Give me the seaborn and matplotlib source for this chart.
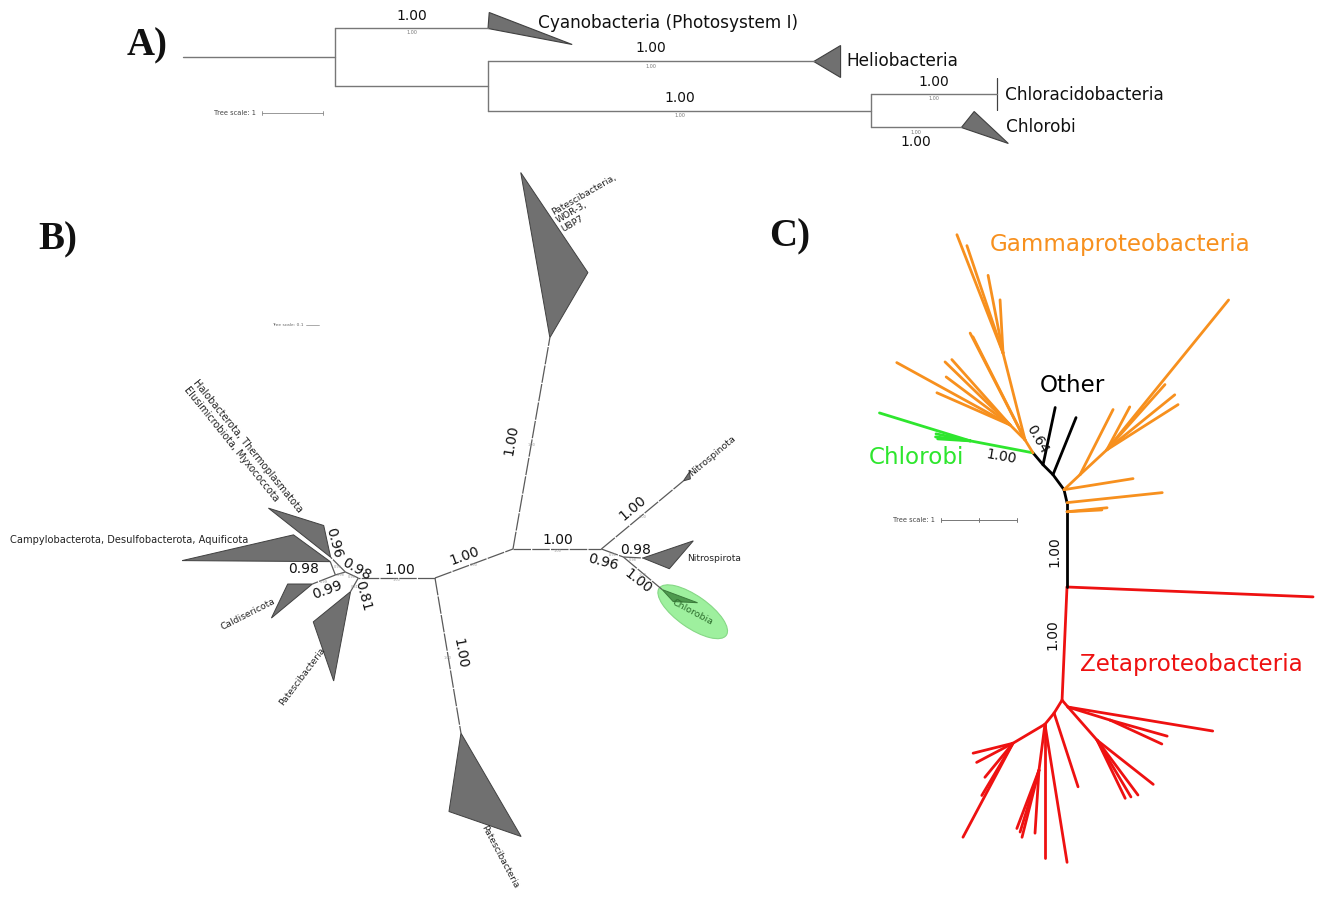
import numpy as np
import pandas as pd
import matplotlib
matplotlib.use("Agg")
import matplotlib.pyplot as plt
from matplotlib.patches import Ellipse, Polygon
import seaborn as sns

sns.set_theme(style="white")
plt.rcParams["font.family"] = ["DejaVu Sans"]

# ---------------- Panel A: rooted tree of reaction-centre lineages ----------------
A_parent = ["root", "n1", "n1", "n2", "n2", "n3", "n3"]
A_child = ["n1", "Cyanobacteria (Photosystem I)", "n2", "Heliobacteria", "n3",
           "Chloracidobacteria", "Chlorobi"]
A_length = [2.49, 2.51, 2.51, 5.34, 6.28, 2.07, 1.48]
A_support = [None, "1.00", None, "1.00", "1.00", "1.00", "1.00"]
A_leaves = ["Cyanobacteria (Photosystem I)", "Heliobacteria", "Chloracidobacteria", "Chlorobi"]
A_clade_min = [0.02, 0.44, 0.0, 0.21]   # shortest tip inside each collapsed clade
A_clade_max = [1.38, 0.44, 0.0, 0.77]   # longest tip inside each collapsed clade

# ---------------- Panel B: unrooted tree, collapsed clades ----------------
B_parent = ["C1", "U", "U", "R", "R", "R2", "R2", "C1", "C1", "L1", "M", "M", "N", "N", "L1"]
B_child = ["U", "PAT1", "R", "NSP", "R2", "NSR", "CHL", "PAT2", "L1", "M", "HAL", "N", "CAM", "CAL", "PAT3"]
B_length = [0.64, 1.65, 0.68, 0.82, 0.18, 0.15, 0.39, 1.21, 0.59, 0.11, 0.16, 0.08, 0.11, 0.19, 0.12]
B_angle = [20.4, 80.1, 0.0, 39.7, -20.0, -3.0, -40.0, -80.5, 180.0, 155.0, 135.0, -163.0, 111.0, -158.6, -119.7]
B_support = ["1.00", "1.00", "1.00", "1.00", "0.96", "0.98", "1.00", "1.00", "1.00", "0.98", "0.96",
             "0.98", None, "0.99", "0.81"]
B_clade_node = ["PAT1", "NSP", "NSR", "CHL", "PAT2", "HAL", "CAM", "CAL", "PAT3"]
B_clade_name = ["Patescibacteria,\nWOR-3,\nUBP7", "Nitrospinota", "Nitrospirota", "Chlorobia",
                "Patescibacteria", "Halobacterota, Thermoplasmatota\nElusimicrobiota, Myxococcota",
                "Campylobacterota, Desulfobacterota, Aquificota", "Caldisericota", "Patescibacteria"]
B_tri_len1 = [1.29, 0.083, 0.41, 0.29, 0.61, 0.61, 1.14, 0.19, 0.37]
B_tri_ang1 = [100.0, 56.0, 18.8, -20.4, -98.7, 141.7, 179.6, 180.0, -140.9]
B_tri_len2 = [0.58, 0.056, 0.22, 0.125, 0.92, 0.25, 0.35, 0.41, 0.70]
B_tri_ang2 = [59.7, 16.0, -22.0, -47.5, -59.8, 102.3, 143.9, -140.3, -100.7]

# ---------------- Panel C: unrooted tree coloured by lineage ----------------
C_parent = ["X", "X", "X", "B0", "B1", "B2", "B3", "B4", "B4", "B3",
            "B5", "G1", "G1", "G1", "G1",
            "B5", "O1", "O2", "O2", "O2", "O2", "O1", "O1", "O1", "O3", "O3", "O3", "O3", "O3",
            "B0", "B0", "B1", "B2", "B2", "Q1", "Q1", "Q2", "Q2", "Q2", "Q2", "Q2",
            "Z0", "Zr", "Zr", "Zr2", "Zr2", "Zr", "Zr3", "Zr3", "Zr3", "Zr3",
            "Z0", "Zl", "Zl", "Zl2", "Zl2", "Zl2", "Zl3", "Zl3", "Zl3", "Zl3",
            "Zl2", "Zl4", "Zl4", "Zl4", "Zl4", "Zl4"]
C_child = ["Z0", "z0", "B0", "B1", "B2", "B3", "B4", "B5", "k1", "k3",
           "G1", "g1", "g2", "g3", "g4",
           "O1", "O2", "o1", "o2", "o3", "o4", "o5", "o6", "O3", "o7", "o8", "o9", "o10", "o11",
           "o12", "o13", "o14", "o15", "Q1", "o16", "Q2", "o17", "o18", "o19", "o20", "o21",
           "Zr", "z1", "Zr2", "z2", "z3", "Zr3", "z4", "z5", "z6", "z7",
           "Zl", "z8", "Zl2", "z9", "z10", "Zl3", "z11", "z12", "z13", "z14",
           "Zl4", "z15", "z16", "z17", "z18", "z19"]
C_length = [1.49, 3.24, 0.99, 0.12, 0.175, 0.245, 0.185, 0.205, 0.77, 0.81,
            0.84, 1.25, 0.46, 0.46, 0.43,
            0.20, 1.18, 1.67, 1.49, 1.04, 0.70, 1.58, 1.52, 0.28, 1.70, 1.19, 1.15, 1.05, 1.05,
            0.53, 0.46, 1.26, 0.92, 0.29, 0.96, 0.48, 0.64, 2.54, 1.15, 1.11, 1.15,
            0.12, 1.93, 0.58, 0.78, 0.75, 0.58, 0.94, 0.90, 0.85, 0.87,
            0.20, 1.02, 0.19, 1.84, 1.76, 0.61, 0.83, 0.91, 0.82, 0.85,
            0.49, 1.40, 0.54, 0.54, 0.58, 0.80]
C_angle = [-92.5, -2.3, 90.0, 90.0, 103.0, 126.3, 135.0, 130.2, 78.0, 68.0,
           169.2, 162.9, 173.5, 168.4, 176.5,
           121.6, 104.2, 111.3, 108.6, 100.9, 93.2, 117.2, 116.8, 135.0, 151.2, 135.9, 131.7, 143.1, 156.3,
           5.7, 3.0, 6.0, 9.1, 43.2, 63.1, 42.8, 61.9, 50.9, 39.0, 32.4, 48.3,
           -49.4, -9.4, -17.2, -15.7, -24.8, -48.7, -38.2, -53.3, -64.2, -59.2,
           -121.6, -72.0, -129.3, -80.9, -90.0, -97.4, -93.6, -104.2, -110.8, -107.0,
           -149.3, -118.0, -166.0, -152.2, -129.5, -120.8]
C_group = (["Zeta", "Zeta"] + ["Other"] * 8 + ["Chlorobi"] * 5 + ["Gamma"] * 26 + ["Zeta"] * 26)
C_support = {"B0": "1.00", "Z0": "1.00", "G1": "1.00", "B5": "0.64"}
C_group_label = ["Gammaproteobacteria", "Other", "Chlorobi", "Zetaproteobacteria"]
C_group_key = ["Gamma", "Other", "Chlorobi", "Zeta"]

# ---------------- styling ----------------
C_palette = {"Gamma": "#f7901e", "Other": "#000000", "Chlorobi": "#2ee62e", "Zeta": "#ee1111"}
TRI_FACE = "#707070"
TRI_EDGE = "#404040"
LINE_A = "#777777"
LINE_B = "#5a5a5a"


def layout_polar(parents, children, lengths, angles, origin, scale):
    pos = {parents[0]: origin}
    for p, c, L, a in zip(parents, children, lengths, angles):
        x0, y0 = pos[p]
        r = np.deg2rad(a)
        pos[c] = (x0 + L * scale * np.cos(r), y0 - L * scale * np.sin(r))
    return pos


def polar_offset(pt, L, a, scale):
    r = np.deg2rad(a)
    return (pt[0] + L * scale * np.cos(r), pt[1] - L * scale * np.sin(r))


fig = plt.figure(figsize=(13.21, 8.97), dpi=100)
ax = fig.add_axes([0, 0, 1, 1])

# ===== Panel A =====
sA, xA0, yA0, dyA = 61.0, 183.0, 28.5, 33.0
xA = {"root": 0.0}
for p, c, L in zip(A_parent, A_child, A_length):
    xA[c] = xA[p] + L
yA = {leaf: yA0 + dyA * i for i, leaf in enumerate(A_leaves)}
for p in ["n3", "n2", "n1"]:
    kids = [c for pp, c in zip(A_parent, A_child) if pp == p]
    yA[p] = np.mean([yA[k] for k in kids])
yA["root"] = yA["n1"]
px = {k: xA0 + v * sA for k, v in xA.items()}

segA = []
sid = 0
for p, c in zip(A_parent, A_child):
    segA += [(px[p], yA[c], sid), (px[c], yA[c], sid)]
    sid += 1
for p in ["n1", "n2", "n3"]:
    kids = [c for pp, c in zip(A_parent, A_child) if pp == p]
    ys = [yA[k] for k in kids]
    segA += [(px[p], min(ys), sid), (px[p], max(ys), sid)]
    sid += 1
dfA = pd.DataFrame(segA, columns=["x", "y", "seg"])
sns.lineplot(data=dfA, x="x", y="y", units="seg", estimator=None, sort=False,
             color=LINE_A, linewidth=1.0, ax=ax, legend=False)

A_label_dx = [50, 33, 8, 45]
A_label_dy = [-5, 0, 0, 0]
for i, leaf in enumerate(A_leaves):
    xe, ye = px[leaf], yA[leaf]
    tri = [(xe, ye), (xe + A_clade_min[i] * sA, ye - 16), (xe + A_clade_max[i] * sA, ye + 16)]
    ax.add_patch(Polygon(tri, closed=True, facecolor=TRI_FACE, edgecolor=TRI_EDGE, lw=0.8))
    ax.text(xe + A_label_dx[i], ye + A_label_dy[i], leaf, fontsize=12.2, ha="left", va="center",
            color="#111111")

for p, c, s in zip(A_parent, A_child, A_support):
    if s is None:
        continue
    xm = (px[p] + px[c]) / 2
    below = c == "Chlorobi"
    ax.text(xm, yA[c] + (15 if below else -13), s, fontsize=10, ha="center", va="center", color="#111111")
    ax.text(xm, yA[c] + 4.5, s, fontsize=3.5, ha="center", va="center", color="#777777")

ax.text(256, 113, "Tree scale: 1", fontsize=4.8, ha="right", va="center", color="#444444")
ax.plot([262, 262 + sA], [113, 113], color="#888888", lw=0.6)
for xt in [262, 262 + sA]:
    ax.plot([xt, xt], [111, 115], color="#888888", lw=0.6)

# ===== Panel B =====
sB = 130.0
posB = layout_polar(B_parent, B_child, B_length, B_angle, (435.0, 578.0), sB)

segB = []
for i, (p, c) in enumerate(zip(B_parent, B_child)):
    segB += [(posB[p][0], posB[p][1], i), (posB[c][0], posB[c][1], i)]
dfB = pd.DataFrame(segB, columns=["x", "y", "seg"])
n_before = len(ax.lines)
sns.lineplot(data=dfB, x="x", y="y", units="seg", estimator=None, sort=False,
             color=LINE_B, linewidth=0.9, ax=ax, legend=False)
for ln in ax.lines[n_before:]:
    ln.set_dashes([14, 1.0])

# highlighted Chlorobia clade
chl_center = polar_offset(posB["CHL"], 0.29, -36.0, sB)
ax.add_patch(Ellipse(chl_center, width=82, height=32, angle=35, facecolor="#9ef09e",
                     edgecolor="#86d886", lw=0.8, zorder=1))

for i, node in enumerate(B_clade_node):
    apex = posB[node]
    c1 = polar_offset(apex, B_tri_len1[i], B_tri_ang1[i], sB)
    c2 = polar_offset(apex, B_tri_len2[i], B_tri_ang2[i], sB)
    face, edge = (("#4e9a4e", "#3b7a3b") if node == "CHL" else (TRI_FACE, TRI_EDGE))
    ax.add_patch(Polygon([apex, c1, c2], closed=True, facecolor=face, edgecolor=edge, lw=0.7, zorder=2))

# clade label placement: offset from apex (px), rotation, alignment, size
B_lab_style = {
    "PAT1": ((0, -129), 30, "left", "top", 6.6),
    "NSP": ((7, -6), 40, "left", "center", 6.8),
    "NSR": ((44, 0), 0, "left", "center", 6.6),
    "CHL": ((30, 23), -28, "center", "center", 6.8),
    "PAT2": ((22, 93), -62, "left", "center", 6.6),
    "HAL": ((-132, -180), -51, "left", "top", 7.0),
    "CAM": ((-320, -22), 0, "left", "center", 7.1),
    "CAL": ((-38, 17), 27, "right", "center", 6.6),
    "PAT3": ((-27, 57), 53, "right", "center", 6.6),
}
for node, name in zip(B_clade_node, B_clade_name):
    (ox, oy), rot, ha, va, fs = B_lab_style[node]
    ax.text(posB[node][0] + ox, posB[node][1] + oy, name, rotation=rot, rotation_mode="anchor",
            ha=ha, va=va, fontsize=fs, color="#2d6e2d" if node == "CHL" else "#222222",
            linespacing=1.15, zorder=3)

# support value placement relative to branch midpoint
B_sup_style = {
    "U": ((-9, -7.5), 20), "PAT1": ((-20, -3), 80), "R": ((1, -9), 0), "NSP": ((-10, -7), 40),
    "R2": ((-9, 9), -15), "NSR": ((2, -7.5), 0), "CHL": ((-4.5, 8.5), -38), "PAT2": ((12, -2.5), -80),
    "L1": ((3.5, -8), 0), "M": ((4.5, -6), -30), "HAL": ((-4.5, -21.5), -75), "N": ((-37, -4.5), 0),
    "CAL": ((3.5, 10.5), 20), "PAT3": ((9, 11), -75),
}
for p, c, s in zip(B_parent, B_child, B_support):
    if s is None:
        continue
    (ox, oy), rot = B_sup_style[c]
    xm = (posB[p][0] + posB[c][0]) / 2
    ym = (posB[p][1] + posB[c][1]) / 2
    ax.text(xm + ox, ym + oy, s, rotation=rot, ha="center", va="center", fontsize=10,
            color="#111111", rotation_mode="anchor", zorder=3)
    ax.text(xm, ym + 2, s, rotation=0, ha="center", va="center", fontsize=2.5,
            color="#999999", zorder=3)

ax.text(304, 325, "Tree scale: 0.1", fontsize=3.2, ha="right", va="center", color="#666666")
ax.plot([306, 306 + 0.1 * sB], [325, 325], color="#888888", lw=0.5)

# ===== Panel C =====
sC = 76.0
posC = layout_polar(C_parent, C_child, C_length, C_angle, (1067.0, 587.0), sC)
segC = []
for i, (p, c, g) in enumerate(zip(C_parent, C_child, C_group)):
    segC += [(posC[p][0], posC[p][1], i, g), (posC[c][0], posC[c][1], i, g)]
dfC = pd.DataFrame(segC, columns=["x", "y", "seg", "group"])
sns.lineplot(data=dfC, x="x", y="y", units="seg", estimator=None, sort=False, hue="group",
             palette=C_palette, linewidth=2.0, ax=ax, legend=False)

C_sup_style = {"B0": ((-13, 2.5), 90), "Z0": ((-12, -8.5), 90), "G1": ((-0.5, 10), -10),
               "B5": ((-1, -19), -60)}
for p, c in zip(C_parent, C_child):
    if c not in C_support:
        continue
    (ox, oy), rot = C_sup_style[c]
    xm = (posC[p][0] + posC[c][0]) / 2
    ym = (posC[p][1] + posC[c][1]) / 2
    ax.text(xm + ox, ym + oy, C_support[c], rotation=rot, ha="center", va="center",
            fontsize=10, color="#111111", rotation_mode="anchor")

C_lab_pos = {"Gamma": (990, 245), "Other": (1040, 386), "Chlorobi": (869, 458), "Zeta": (1080, 665)}
for key, name in zip(C_group_key, C_group_label):
    ax.text(*C_lab_pos[key], name, fontsize=16.6, ha="left", va="center", color=C_palette[key])

ax.text(935, 520, "Tree scale: 1", fontsize=4.8, ha="right", va="center", color="#444444")
ax.plot([941, 941 + sC], [520, 520], color="#777777", lw=0.7)
for xt in [941, 941 + sC / 2, 941 + sC]:
    ax.plot([xt, xt], [518, 522], color="#777777", lw=0.7)

# panel letters
for letter, (lx, ly) in zip(["A)", "B)", "C)"], [(127, 46), (38, 240), (769, 237)]):
    ax.text(lx, ly, letter, fontsize=28, fontweight="bold", family="Liberation Serif",
            ha="left", va="center", color="#111111")

ax.set_xlim(0, 1321)
ax.set_ylim(897, 0)
ax.set_aspect("equal")
ax.axis("off")
fig.savefig("out.png", dpi=100, facecolor="white")
